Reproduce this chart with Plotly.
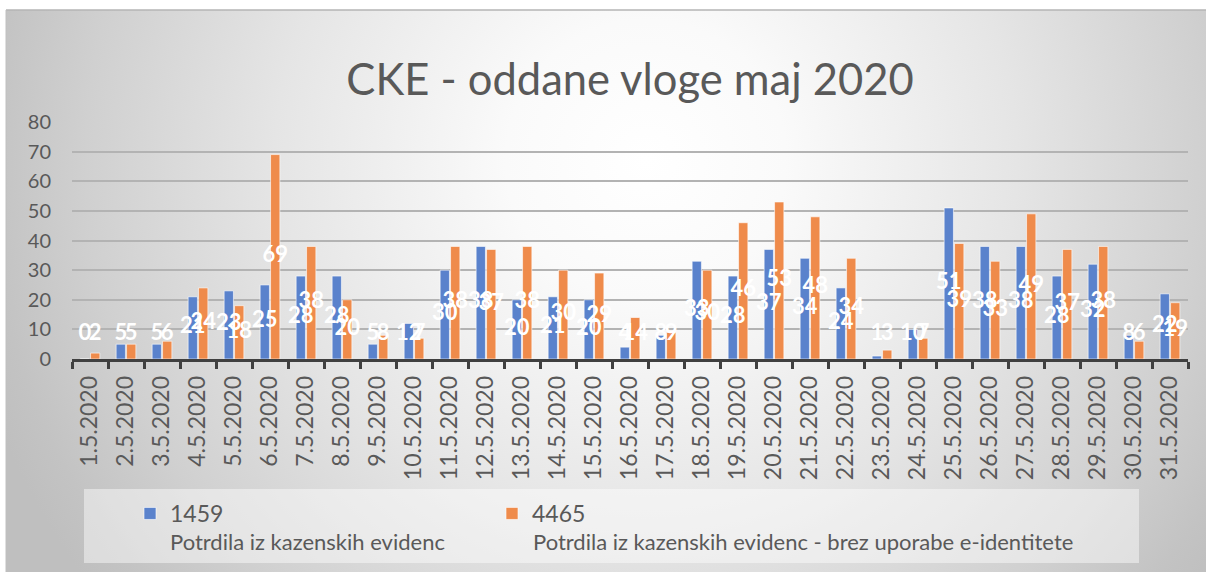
import base64
import plotly.graph_objects as go

dates = [f"{d}.5.2020" for d in range(1, 32)]
series1_name = "1459"
series2_name = "4465"
series1_desc = "Potrdila iz kazenskih evidenc"
series2_desc = "Potrdila iz kazenskih evidenc - brez uporabe e-identitete"
s1 = [0, 5, 5, 21, 23, 25, 28, 28, 5, 12, 30, 38, 20, 21, 20, 4, 8, 33, 28, 37, 34, 24, 1, 10, 51, 38, 38, 28, 32, 8, 22]
s2 = [2, 5, 6, 24, 18, 69, 38, 20, 8, 7, 38, 37, 38, 30, 29, 14, 9, 30, 46, 53, 48, 34, 3, 7, 39, 33, 49, 37, 38, 6, 19]
title = "CKE - oddane vloge maj 2020"

W, H = 1206, 572
ML, MR, MT, MB = 72, 18, 122, 213
PW, PH = W - ML - MR, H - MT - MB

def fx(px):
    return (px - ML) / PW

def fy(py):
    return (H - MB - py) / PH

BLUE = "#5a82cc"
ORANGE = "#ef8b4b"
GRAY_TXT = "#595959"
FONT = "Lato"
BARGAP = 0.42
GROUPGAP = 0.11

xs = list(range(len(dates)))
off = (1 - BARGAP) / 4

fig = go.Figure()
fig.add_trace(go.Bar(x=xs, y=s1, name=series1_name, marker=dict(color=BLUE, line=dict(color="rgba(255,255,255,0.6)", width=1))))
fig.add_trace(go.Bar(x=xs, y=s2, name=series2_name, marker=dict(color=ORANGE, line=dict(color="rgba(255,255,255,0.6)", width=1))))

LABEL_MIN = 8.3
for vals, sign in ((s1, -1), (s2, 1)):
    fig.add_trace(go.Scatter(
        x=[x + sign * off for x in xs],
        y=[max(v / 2, LABEL_MIN) for v in vals],
        text=[str(v) for v in vals],
        mode="text",
        textfont=dict(family=FONT, size=22, color="white", weight="bold"),
        showlegend=False, cliponaxis=False, hoverinfo="skip",
    ))

# radial gradient background
svg = f'''<svg xmlns="http://www.w3.org/2000/svg" width="1200" height="562" viewBox="0 0 1200 562">
<defs><radialGradient id="g" gradientUnits="userSpaceOnUse" cx="640" cy="150" r="700">
<stop offset="0" stop-color="#ffffff"/>
<stop offset="0.2" stop-color="#fafafa"/>
<stop offset="0.53" stop-color="#e5e5e5"/>
<stop offset="0.8" stop-color="#d0d0d0"/>
<stop offset="0.94" stop-color="#c3c3c3"/>
<stop offset="1" stop-color="#bfbfbf"/>
</radialGradient></defs>
<rect x="0" y="0" width="1200" height="562" fill="url(#g)"/>
</svg>'''
src = "data:image/svg+xml;base64," + base64.b64encode(svg.encode()).decode()
fig.add_layout_image(dict(source=src, xref="paper", yref="paper", x=fx(6), y=fy(10),
                          sizex=(W - 6) / PW, sizey=(H - 10) / PH, xanchor="left", yanchor="top",
                          sizing="stretch", layer="below"))

shapes = [
    dict(type="line", xref="paper", yref="paper", x0=fx(6), x1=fx(W), y0=fy(10), y1=fy(10),
         line=dict(color="#b5b5b5", width=1.5)),
    dict(type="line", xref="paper", yref="paper", x0=fx(6), x1=fx(6), y0=fy(10), y1=fy(H),
         line=dict(color="#c0c0c0", width=1)),
    dict(type="rect", xref="paper", yref="paper", x0=fx(84), x1=fx(1139), y0=fy(489), y1=fy(563),
         fillcolor="rgba(255,255,255,0.45)", line=dict(width=0), layer="below"),
]

annotations = [
    dict(text=series1_desc, xref="paper", yref="paper", x=fx(168), y=fy(541), xanchor="left", yanchor="middle",
         showarrow=False, font=dict(family=FONT, size=22, color=GRAY_TXT)),
    dict(text=series2_desc, xref="paper", yref="paper", x=fx(531), y=fy(541), xanchor="left", yanchor="middle",
         showarrow=False, font=dict(family=FONT, size=22, color=GRAY_TXT)),
]

fig.update_layout(
    width=W, height=H,
    margin=dict(l=ML, r=MR, t=MT, b=MB, autoexpand=False),
    paper_bgcolor="white", plot_bgcolor="rgba(0,0,0,0)",
    barmode="group", bargap=BARGAP, bargroupgap=GROUPGAP,
    title=dict(text=title, x=0.5, xref="paper", xanchor="center", y=1 - 80 / H, yanchor="middle",
               font=dict(family=FONT, size=43.5, color=GRAY_TXT)),
    font=dict(family=FONT, color=GRAY_TXT),
    shapes=shapes, annotations=annotations,
    showlegend=True,
    legend=dict(orientation="h", x=fx(130), y=fy(492), xanchor="left", yanchor="top",
                bgcolor="rgba(0,0,0,0)", entrywidth=317, entrywidthmode="pixels",
                font=dict(family=FONT, size=23, color=GRAY_TXT), traceorder="normal"),
)
fig.update_xaxes(
    range=[-0.5, len(dates) - 0.5], tickmode="array", tickvals=xs, ticktext=dates, tickangle=-90,
    ticks="", showgrid=False, zeroline=False, showline=True, linecolor="#404040", linewidth=2.5,
    tickfont=dict(family=FONT, size=23, color=GRAY_TXT), ticklabelstandoff=5,
    minor=dict(tickmode="array", tickvals=[x - 0.5 for x in xs] + [len(dates) - 0.5], ticks="outside",
               ticklen=7, tickwidth=2.5, tickcolor="#404040", showgrid=False),
)
fig.update_yaxes(
    range=[0, 80], dtick=10, showgrid=True, gridcolor="#b3b3b3", gridwidth=1.5, zeroline=False,
    showline=False, ticks="", tickfont=dict(family=FONT, size=20, color=GRAY_TXT), ticklabelstandoff=20,
)

fig.write_html("out.html", config={"displayModeBar": False},
               post_script="document.body.style.margin='0';document.body.style.overflow='hidden';")
